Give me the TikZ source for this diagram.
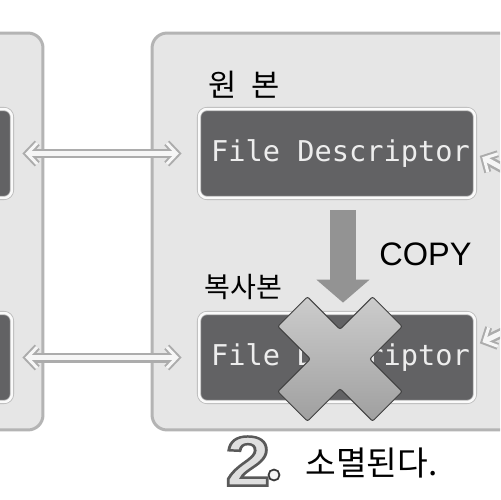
\documentclass[tikz,border=0pt]{standalone}
\usepackage{fontspec}
\setmainfont{Liberation Sans}
\setmonofont{DejaVu Sans Mono}
\newfontfamily\kr{Noto Sans CJK KR}
\usetikzlibrary{arrows.meta,positioning,calc}
\definecolor{PanelFill}{HTML}{E6E6E6}
\definecolor{PanelLine}{HTML}{B4B4B4}
\definecolor{FdDark}{HTML}{626264}
\definecolor{FdText}{HTML}{EDEDED}
\tikzset{
  outtip/.tip={Straight Barb[length=0.2cm,width=0.42cm,line width=0.14cm]},
  intip/.tip={Straight Barb[length=0.2cm,width=0.42cm,line width=0.06cm]}
}

\begin{document}
\begin{tikzpicture}[
    x=0.02cm, y=-0.02cm,
    node distance=2mm and 1mm,
    panel/.style={draw=PanelLine, line width=0.06cm, fill=PanelFill,
      rounded corners=0.3cm, minimum height=7.94cm, inner sep=0pt},
    fdbox/.style={fill=FdDark, draw=gray!55, double=white!96!gray, double distance=0.05cm,
      line width=0.016cm, rounded corners=0.16cm, minimum width=5.52cm,
      minimum height=1.78cm, text=FdText, font=\ttfamily\fontsize{16.3}{18}\selectfont, inner sep=0pt},
    klabel/.style={font=\kr\fontsize{16}{18}\selectfont, inner sep=0pt},
    linkout/.style={draw=gray!65, line width=0.2cm},
    linkin/.style={draw=white!93!gray, line width=0.1cm},
    copyarrow/.style={-{Triangle[width=1.04cm,length=0.46cm]}, line width=0.52cm, color=gray!85},
    xmark/.style={top color=gray!40, bottom color=gray!75, draw=gray!50!black,
      line width=0.02cm, rounded corners=0.04cm}
  ]
    \useasboundingbox (0,0) rectangle (500,500);
    \fill[white] (0,0) rectangle (500,500);
    \clip (0,0) rectangle (500,500);

    % two processes
    \node[panel, minimum width=2.86cm] (lpanel) at (-28.5,231.5) {};
    \node[panel, minimum width=9.36cm] (rpanel) at (386,231.5) {};

    \node[fdbox] (lorig) at (-126,153.5) {};
    \node[fdbox] (lcopy) at (-126,357.5) {};
    \node[fdbox] (orig) at (337,153.5) {\hspace*{0.14cm}File Descriptor};
    \node[fdbox] (copy) at (337,357.5) {\hspace*{0.14cm}File Descriptor};

    \node[klabel, font=\kr\fontsize{17.5}{20}\selectfont, above right=0.2cm and 0.2cm of orig.north west, anchor=south west] (origlbl) {원\hspace{0.45em}본};
    \node[klabel, above right=0.26cm and 0.12cm of copy.north west, anchor=south west] (copylbl) {복사본};

    % shared descriptors (hollow double arrows)
    \coordinate (rtop) at (524,180);
    \coordinate (rbot) at (524,322);
    \draw[linkout, outtip-outtip, shorten <=0.2cm, shorten >=0.34cm] (lorig.east) -- (orig.west);
    \draw[linkin, intip-intip, shorten <=0.256cm, shorten >=0.396cm] (lorig.east) -- (orig.west);
    \draw[linkout, outtip-outtip, shorten <=0.2cm, shorten >=0.34cm] (lcopy.east) -- (copy.west);
    \draw[linkin, intip-intip, shorten <=0.256cm, shorten >=0.396cm] (lcopy.east) -- (copy.west);
    \draw[linkout, outtip-, shorten <=0.1cm] (orig.east) -- (rtop);
    \draw[linkin, intip-, shorten <=0.156cm] (orig.east) -- (rtop);
    \draw[linkout, outtip-, shorten <=0.1cm] ([yshift=0.24cm]copy.east) -- (rbot);
    \draw[linkin, intip-, shorten <=0.156cm] ([yshift=0.24cm]copy.east) -- (rbot);

    \draw[copyarrow, shorten <=0.24cm, shorten >=0.2cm] ([xshift=0.12cm]orig.south) -- ([xshift=0.12cm]copy.north);
    \node[font=\fontsize{18.5}{20}\selectfont, anchor=west, inner sep=0pt] (copytxt) at (379,254) {COPY};

    % the copy is gone
    \draw[xmark, shift={(340,359)}, rotate=45] (21,21) -- (67,21) -- (67,-21) -- (21,-21)
      -- (21,-67) -- (-21,-67) -- (-21,-21) -- (-67,-21) -- (-67,21) -- (-21,21)
      -- (-21,67) -- (21,67) -- cycle;

    \node[klabel, font=\kr\fontsize{19}{20}\selectfont, anchor=west] (gone) at (305,463) {소멸된다.};
    \node[circle, draw=gray!45!black, fill=white!92!gray, line width=0.035cm, minimum size=0.22cm, inner sep=0pt] (stepdot) at (274,475) {};
    \node[inner sep=0pt, text=gray!25] (step) at (248,461)
      {\fontsize{40}{42}\bfseries\selectfont\special{pdf:literal direct 2 Tr 1.4 w 0.35 G}\scalebox{1.15}[1]{2}\special{pdf:literal direct 0 Tr 0 G}};
\end{tikzpicture}
\end{document}
